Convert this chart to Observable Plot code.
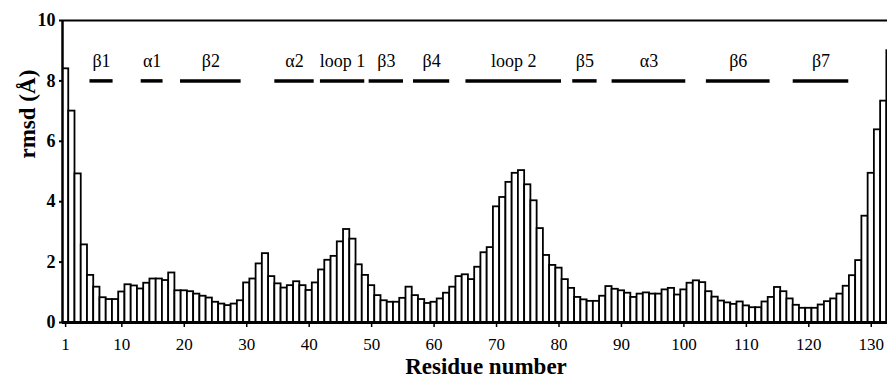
<!DOCTYPE html>
<html><head><meta charset="utf-8">
<script src="https://cdn.jsdelivr.net/npm/d3@7"></script>
<script src="https://cdn.jsdelivr.net/npm/@observablehq/plot@0.6"></script>
<style>
body{margin:0;background:#fff;overflow:hidden}
#chart svg, #chart svg text { font-family: "Liberation Serif", "Times New Roman", serif !important; }
</style>
</head><body><div id="chart"></div>
<script>
const residues = d3.range(1, 134);
const rmsd = [
  8.40, 7.00, 4.92, 2.57, 1.56, 1.17, 0.82, 0.76, 0.76, 1.01,
  1.25, 1.21, 1.11, 1.30, 1.44, 1.44, 1.39, 1.64, 1.05, 1.05,
  1.02, 0.94, 0.87, 0.81, 0.67, 0.61, 0.56, 0.61, 0.72, 1.31,
  1.44, 1.94, 2.28, 1.52, 1.28, 1.14, 1.22, 1.35, 1.22, 1.06,
  1.31, 1.74, 2.06, 2.19, 2.67, 3.08, 2.76, 1.91, 1.56, 1.22,
  0.89, 0.72, 0.67, 0.67, 0.80, 1.17, 0.89, 0.76, 0.63, 0.67,
  0.78, 0.97, 1.17, 1.52, 1.58, 1.42, 1.83, 2.31, 2.48, 3.83,
  4.14, 4.64, 4.94, 5.03, 4.56, 4.03, 3.11, 2.22, 1.89, 1.80,
  1.42, 1.13, 0.83, 0.75, 0.70, 0.70, 0.87, 1.19, 1.10, 1.05,
  0.97, 0.83, 0.94, 0.98, 0.94, 0.94, 1.08, 1.13, 0.91, 1.08,
  1.30, 1.38, 1.32, 1.02, 0.84, 0.71, 0.65, 0.60, 0.68, 0.55,
  0.49, 0.49, 0.68, 0.83, 1.16, 1.02, 0.78, 0.57, 0.47, 0.47,
  0.47, 0.58, 0.69, 0.78, 0.94, 1.20, 1.55, 2.05, 3.52, 4.94,
  6.38, 7.33, 9.00
];
const xTicks = [1, 10, 20, 30, 40, 50, 60, 70, 80, 90, 100, 110, 120, 130];
const yTicks = [0, 2, 4, 6, 8, 10];
const ssLabels = ["β1", "α1", "β2", "α2", "loop 1", "β3", "β4", "loop 2", "β5", "α3", "β6", "β7"];
const ssStart  = [4.9, 13.1, 19.4, 34.5, 41.8, 49.6, 56.7, 65.1, 82.2, 88.5, 103.6, 117.5];
const ssEnd    = [8.6, 16.6, 29.1, 40.8, 48.9, 55.1, 62.5, 80.4, 86.1, 100.3, 113.8, 126.4];
const ssLevel = 8;

const data = residues.map((r, i) => ({r, v: rmsd[i]}));
const ss = ssLabels.map((label, i) => ({label, x1: ssStart[i], x2: ssEnd[i], mid: (ssStart[i] + ssEnd[i]) / 2, y: ssLevel}));

const chart = Plot.plot({
  width: 887, height: 383,
  marginLeft: 62, marginRight: 0, marginTop: 20, marginBottom: 61,
  style: {background: "#fff", color: "#000"},
  x: {type: "linear", domain: [0.5, 132.6]},
  y: {domain: [0, 10]},
  marks: [
    Plot.rectY(data, {x1: d => d.r - 0.5, x2: d => d.r + 0.5, y1: 0, y2: "v", fill: "white", stroke: "black", strokeWidth: 1.8, clip: true}),
    Plot.ruleY([0], {stroke: "black", strokeWidth: 3}),
    Plot.ruleY([10], {stroke: "black", strokeWidth: 2}),
    Plot.ruleX([0.5], {stroke: "black", strokeWidth: 2.5}),
    Plot.axisX({ticks: xTicks, tickSize: 5, tickPadding: 10, fontSize: 17, label: null, tickFormat: d => String(d), strokeWidth: 1.5}),
    Plot.axisY({ticks: yTicks, tickSize: 3, tickPadding: 4, fontSize: 18, fontWeight: "bold", label: null, strokeWidth: 2}),
    Plot.ruleY(ss, {x1: "x1", x2: "x2", y: "y", stroke: "black", strokeWidth: 3.5}),
    Plot.text(ss, {x: "mid", y: "y", dy: -20, text: "label", fontSize: 18}),
    Plot.text(["rmsd (Å)"], {frameAnchor: "left", rotate: -90, dx: -35, dy: -13, fontSize: 23, fontWeight: "bold"}),
    Plot.text(["Residue number"], {frameAnchor: "bottom", dx: 11, dy: 51, fontSize: 23, fontWeight: "bold"})
  ]
});
document.getElementById("chart").append(chart);
</script>
</body></html>
